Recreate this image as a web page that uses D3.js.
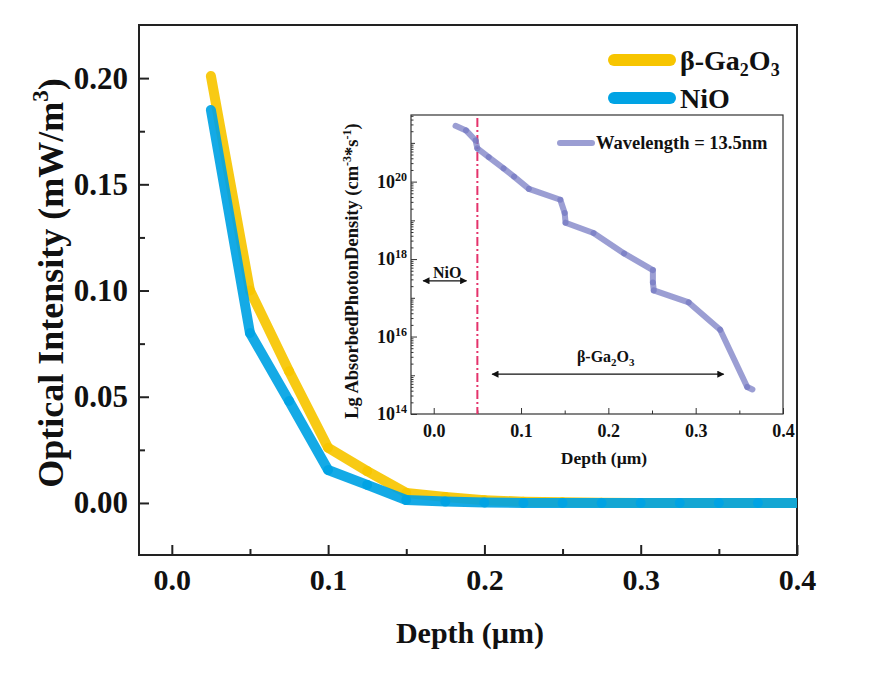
<!DOCTYPE html>
<html>
<head>
<meta charset="utf-8">
<script src="https://cdn.jsdelivr.net/npm/d3@7/dist/d3.min.js"></script>
<style>
  body { margin: 0; background: #fff; }
  svg text { font-family: "Liberation Serif", "Times New Roman", Times, serif !important; font-weight: bold; fill: #111; }
</style>
</head>
<body>
<div class="chart"></div>
<script>
// main plot data (depth in um, optical intensity in mW/m3)
var depth = [0.025, 0.05, 0.075, 0.1, 0.125, 0.15, 0.175, 0.2, 0.225, 0.25, 0.275, 0.3, 0.325, 0.35, 0.375, 0.4];
var ga2o3 = [0.201, 0.100, 0.062, 0.026, 0.015, 0.0047, 0.0028, 0.0013, 0.0006, 0.0003, 0.0001, 0, 0, 0, 0, 0];
var nio   = [0.185, 0.080, 0.048, 0.0155, 0.0085, 0.0014, 0.0007, 0.0002, 0, 0, 0, 0, 0, 0, 0, 0];
var yTicks = [0, 0.05, 0.10, 0.15, 0.20];
var xTicks = [0, 0.1, 0.2, 0.3, 0.4];

// inset data (absorbed photon density, wavelength 13.5nm)
var insetDepth = [0.025, 0.037, 0.048, 0.050, 0.063, 0.080, 0.092, 0.109, 0.145, 0.150, 0.151, 0.183, 0.218, 0.251, 0.251, 0.252, 0.292, 0.328, 0.359, 0.365];
var insetDensity = [2.75e21, 2.1e21, 1.15e21, 7.2e20, 4.3e20, 2.2e20, 1.35e20, 6.5e19, 3.4e19, 1.55e19, 8.7e18, 4.7e18, 1.4e18, 5.2e17, 2.5e17, 1.55e17, 7.6e16, 1.5e16, 5.0e14, 4.3e14];
var insetYTicks = [1e14, 1e16, 1e18, 1e20];
var insetXTicks = [0, 0.1, 0.2, 0.3, 0.4];

var width = 886, height = 676;
var colGa = "#f7c500", colNi = "#00a3e4", colIn = "#7478c2";

var svg = d3.select(".chart").append("svg")
  .attr("width", width).attr("height", height);

// ---------- main axes ----------
var frame = {left: 139, right: 797, top: 25, bottom: 555};
var x = d3.scaleLinear().domain([-0.021, 0.4]).range([frame.left, frame.right]);
var y = d3.scaleLinear().domain([-0.0245, 0.225]).range([frame.bottom, frame.top]);

svg.append("defs").append("clipPath").attr("id", "clipMain")
  .append("rect")
  .attr("x", frame.left).attr("y", frame.top)
  .attr("width", frame.right - frame.left).attr("height", frame.bottom - frame.top);

var axisStyle = function(g) {
  g.select(".domain").remove();
  g.attr("font-family", null);
  g.selectAll("line").attr("stroke", "#222").attr("stroke-width", 2);
};

svg.append("g")
  .attr("transform", "translate(0," + frame.bottom + ")")
  .call(d3.axisBottom(x).tickValues([0.05, 0.15, 0.25, 0.35]).tickSize(-6).tickFormat(""))
  .call(axisStyle);
svg.append("g")
  .attr("transform", "translate(0," + frame.bottom + ")")
  .call(d3.axisBottom(x).tickValues(xTicks).tickSize(-10).tickPadding(14).tickFormat(d3.format(".1f")))
  .call(axisStyle)
  .selectAll("text").attr("font-size", 30);

svg.append("g")
  .attr("transform", "translate(" + frame.left + ",0)")
  .call(d3.axisLeft(y).tickValues([0.025, 0.075, 0.125, 0.175]).tickSize(-6).tickFormat(""))
  .call(axisStyle);
svg.append("g")
  .attr("transform", "translate(" + frame.left + ",0)")
  .call(d3.axisLeft(y).tickValues(yTicks).tickSize(-10).tickPadding(11).tickFormat(d3.format(".2f")))
  .call(axisStyle)
  .selectAll("text").attr("font-size", 31);

svg.append("rect")
  .attr("x", frame.left).attr("y", frame.top)
  .attr("width", frame.right - frame.left).attr("height", frame.bottom - frame.top)
  .attr("fill", "none").attr("stroke", "#222").attr("stroke-width", 2);

// lines drawn segment by segment so joins show slightly darker like the original
function drawSeries(g, xs, ys, xsc, ysc, color, w, op) {
  var pts = xs.map(function(d, i) { return [xsc(d), ysc(ys[i])]; });
  return g.append("g").selectAll("line")
    .data(d3.pairs(pts))
    .enter().append("line")
    .attr("x1", function(d) { return d[0][0]; })
    .attr("y1", function(d) { return d[0][1]; })
    .attr("x2", function(d) { return d[1][0]; })
    .attr("y2", function(d) { return d[1][1]; })
    .attr("stroke", color)
    .attr("stroke-width", w)
    .attr("stroke-linecap", "round")
    .attr("stroke-opacity", op);
}
var plotArea = svg.append("g").attr("clip-path", "url(#clipMain)");
drawSeries(plotArea, depth, ga2o3, x, y, colGa, 10, 0.92);
drawSeries(plotArea, depth, nio, x, y, colNi, 10, 0.92);

// y title
var yt = svg.append("text")
  .attr("transform", "translate(50,283) rotate(-90)")
  .attr("text-anchor", "middle").attr("dy", "0.35em")
  .attr("font-size", 36);
yt.append("tspan").text("Optical Intensity (mW/m");
yt.append("tspan").attr("font-size", 23).attr("dy", -15).text("3");
yt.append("tspan").attr("dy", 15).text(")");

// x title
svg.append("text")
  .attr("x", 470).attr("y", 643)
  .attr("text-anchor", "middle").attr("font-size", 30)
  .text("Depth (\u00b5m)");

// legend
var legend = svg.append("g").attr("id", "legend");
var legItems = [{name: "ga", color: colGa, y: 60}, {name: "ni", color: colNi, y: 98}];
legend.selectAll("line").data(legItems).enter().append("line")
  .attr("x1", 614).attr("x2", 670)
  .attr("y1", function(d) { return d.y; }).attr("y2", function(d) { return d.y; })
  .attr("stroke", function(d) { return d.color; })
  .attr("stroke-width", 12).attr("stroke-linecap", "round");
var t1 = legend.append("text").attr("x", 680).attr("y", 70).attr("font-size", 28);
t1.append("tspan").text("\u03b2-Ga");
t1.append("tspan").attr("font-size", 18).attr("dy", 6).text("2");
t1.append("tspan").attr("dy", -6).text("O");
t1.append("tspan").attr("font-size", 18).attr("dy", 6).text("3");
legend.append("text").attr("x", 680).attr("y", 108).attr("font-size", 28).text("NiO");

// ---------- inset ----------
var inF = {left: 411, right: 783, top: 115, bottom: 414};
var ix = d3.scaleLinear().domain([-0.026, 0.4]).range([inF.left, inF.right]);
var iy = d3.scaleLog().domain([1e14, Math.pow(10, 21.72)]).range([inF.bottom, inF.top]);

var inset = svg.append("g").attr("id", "inset");
inset.append("rect")
  .attr("x", inF.left).attr("y", inF.top)
  .attr("width", inF.right - inF.left).attr("height", inF.bottom - inF.top)
  .attr("fill", "#fff");

var inAxisStyle = function(g) {
  g.select(".domain").remove();
  g.attr("font-family", null);
  g.selectAll("line").attr("stroke", "#333").attr("stroke-width", 1);
};

inset.append("g")
  .attr("transform", "translate(0," + inF.bottom + ")")
  .call(d3.axisBottom(ix).tickValues([0.05, 0.15, 0.25, 0.35]).tickSize(-3.5).tickFormat(""))
  .call(inAxisStyle);
inset.append("g")
  .attr("transform", "translate(0," + inF.bottom + ")")
  .call(d3.axisBottom(ix).tickValues(insetXTicks).tickSize(-6).tickPadding(10).tickFormat(d3.format(".1f")))
  .call(inAxisStyle)
  .selectAll("text").attr("font-size", 18);

// log minor ticks
var minorLog = [];
for (var e = 14; e <= 21; e++) {
  for (var m = 2; m <= 9; m++) {
    if (m * Math.pow(10, e) <= iy.domain()[1]) minorLog.push(m * Math.pow(10, e));
  }
}
inset.append("g")
  .attr("transform", "translate(" + inF.left + ",0)")
  .call(d3.axisLeft(iy).tickValues(minorLog).tickSize(-2.5).tickFormat(""))
  .call(inAxisStyle);
inset.append("g")
  .attr("transform", "translate(" + inF.left + ",0)")
  .call(d3.axisLeft(iy).tickValues([1e15, 1e17, 1e19, 1e21]).tickSize(-4).tickFormat(""))
  .call(inAxisStyle);
var iyAxis = inset.append("g")
  .attr("transform", "translate(" + inF.left + ",0)")
  .call(d3.axisLeft(iy).tickValues(insetYTicks).tickSize(-6).tickPadding(4).tickFormat(""))
  .call(inAxisStyle);
iyAxis.selectAll(".tick text").each(function(d) {
  var t = d3.select(this).attr("font-size", 18);
  t.append("tspan").text("10");
  t.append("tspan").attr("font-size", 12).attr("dy", -7).text(Math.round(Math.log10(d)));
});

inset.append("rect")
  .attr("x", inF.left).attr("y", inF.top)
  .attr("width", inF.right - inF.left).attr("height", inF.bottom - inF.top)
  .attr("fill", "none").attr("stroke", "#333").attr("stroke-width", 1.2);

// dash-dot interface line
inset.append("line")
  .attr("x1", ix(0.05)).attr("x2", ix(0.05))
  .attr("y1", inF.top + 3).attr("y2", inF.bottom)
  .attr("stroke", "#e4336b").attr("stroke-width", 2)
  .attr("stroke-dasharray", "9,3,2,3");

drawSeries(inset, insetDepth, insetDensity, ix, iy, colIn, 6, 0.72);

// arrows
var defs = svg.append("defs");
defs.append("marker").attr("id", "arr")
  .attr("viewBox", "0 0 10 10").attr("refX", 9).attr("refY", 5)
  .attr("markerWidth", 9).attr("markerHeight", 7).attr("markerUnits", "userSpaceOnUse")
  .attr("orient", "auto-start-reverse")
  .append("path").attr("d", "M0,0L10,5L0,10z").attr("fill", "#111");

var arrows = [
  {from: -0.012, to: 0.0375, y: 2.75e17, ly: 4.6e17},
  {from: 0.067, to: 0.332, y: 1.07e15, ly: 3.0e15}
];
inset.selectAll(".arrow").data(arrows).enter().append("line")
  .attr("class", "arrow")
  .attr("x1", function(d) { return ix(d.from); })
  .attr("x2", function(d) { return ix(d.to); })
  .attr("y1", function(d) { return iy(d.y); })
  .attr("y2", function(d) { return iy(d.y); })
  .attr("stroke", "#111").attr("stroke-width", 1.2)
  .attr("marker-start", "url(#arr)").attr("marker-end", "url(#arr)");

inset.append("text")
  .attr("x", ix(0.0155)).attr("y", iy(arrows[0].ly)).attr("dy", "0.35em")
  .attr("text-anchor", "middle").attr("font-size", 16).text("NiO");
var gt = inset.append("text")
  .attr("x", ix(0.197)).attr("y", iy(arrows[1].ly)).attr("dy", "0.35em")
  .attr("text-anchor", "middle").attr("font-size", 16);
gt.append("tspan").text("\u03b2-Ga");
gt.append("tspan").attr("font-size", 11).attr("dy", 4).text("2");
gt.append("tspan").attr("dy", -4).text("O");
gt.append("tspan").attr("font-size", 11).attr("dy", 4).text("3");

// inset legend
inset.append("line")
  .attr("x1", 560).attr("x2", 592).attr("y1", 143).attr("y2", 143)
  .attr("stroke", colIn).attr("stroke-opacity", 0.72)
  .attr("stroke-width", 6).attr("stroke-linecap", "round");
inset.append("text")
  .attr("x", 596).attr("y", 143).attr("dy", "0.35em")
  .attr("font-size", 18.5).text("Wavelength = 13.5nm");

// inset axis titles
inset.append("text")
  .attr("x", 604).attr("y", 464)
  .attr("text-anchor", "middle").attr("font-size", 17.5)
  .text("Depth (\u00b5m)");
var it = inset.append("text")
  .attr("transform", "translate(352,271) rotate(-90)")
  .attr("text-anchor", "middle").attr("dy", "0.35em")
  .attr("font-size", 18.5);
it.append("tspan").text("Lg AbsorbedPhotonDensity (cm");
it.append("tspan").attr("font-size", 12).attr("dy", -7).text("-3");
it.append("tspan").attr("dy", 7).text("*s");
it.append("tspan").attr("font-size", 12).attr("dy", -7).text("-1");
it.append("tspan").attr("dy", 7).text(")");
</script>
</body>
</html>
